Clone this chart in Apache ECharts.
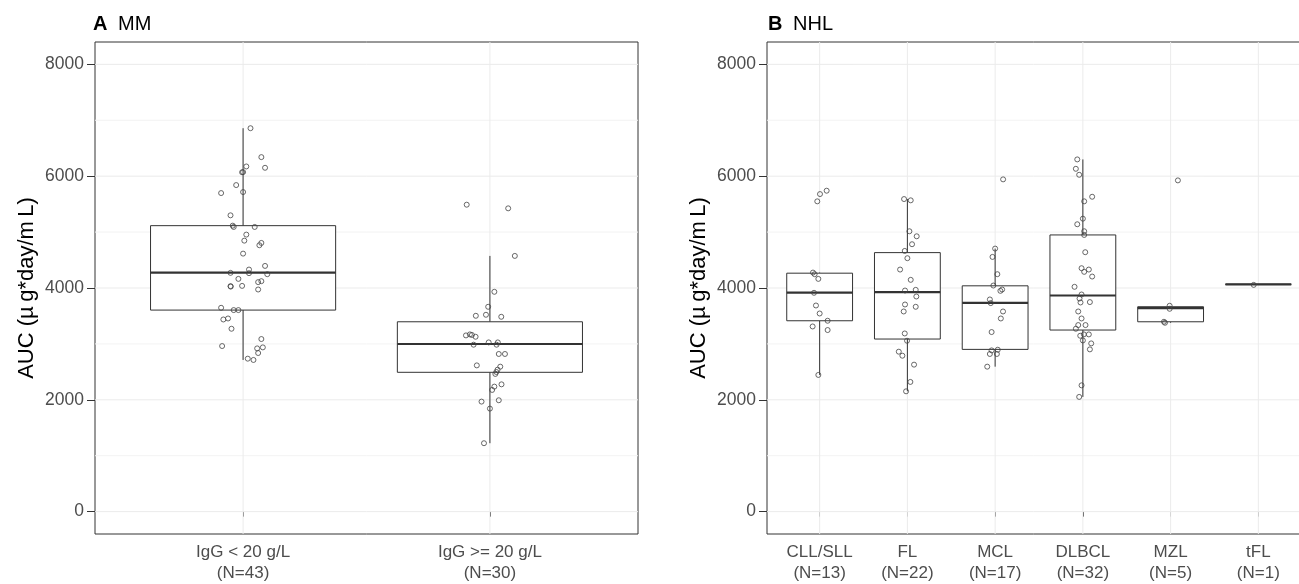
<!DOCTYPE html>
<html>
<head>
<meta charset="utf-8">
<script src="https://cdn.jsdelivr.net/npm/echarts@6/dist/echarts.min.js"></script>
<style>
  html, body { margin: 0; padding: 0; background: #fff; }
  #chart { width: 1299px; height: 584px; }
</style>
</head>
<body>
<div id="chart"></div>
<script>
// panel A: MM, grouped by IgG
var mmCategories = ['IgG < 20 g/L', 'IgG >= 20 g/L'];
var mmCounts = [43, 30];
// whisker low, Q1, median, Q3, whisker high
var mmBoxStats = [
  [2713, 3605, 4276, 5115, 6858],
  [1224, 2492, 2998, 3396, 4574]
];
var mmLowValues = [6858, 6341, 6174, 6150, 6073, 6070, 5841, 5698, 5716, 5300, 5115, 5092, 5092, 4955, 4847,
  4806, 4765, 4615, 4395, 4330, 4265, 4271, 4247, 4163, 4122, 4105, 4033, 4025, 4038, 3973, 3646, 3605, 3605,
  3437, 3455, 3271, 3087, 2962, 2920, 2938, 2837, 2736, 2713];
var mmLowJitter = [0.03, 0.074, 0.013, 0.089, 0, -0.004, -0.028, -0.089, 0, -0.051, -0.042, -0.038, 0.047, 0.013, 0.005,
  0.074, 0.066, 0, 0.089, 0.024, 0.024, -0.051, 0.098, -0.019, 0.074, 0.061, -0.051, -0.05, -0.004, 0.061, -0.089, -0.038, -0.019,
  -0.08, -0.061, -0.047, 0.074, -0.085, 0.057, 0.08, 0.061, 0.019, 0.042];
var mmHighValues = [5490, 5425, 4574, 3932, 3664, 3503, 3521, 3485, 3152, 3170, 3128, 3160, 3027, 2986, 2986,
  3027, 2820, 2820, 2616, 2593, 2539, 2498, 2463, 2277, 2236, 2177, 1968, 1992, 1843, 1224];
var mmHighJitter = [-0.094, 0.074, 0.101, 0.018, -0.007, -0.057, -0.016, 0.046, -0.097, -0.081, -0.058, -0.073, -0.005, -0.066, 0.027,
  0.032, 0.036, 0.061, -0.053, 0.042, 0.031, 0.026, 0.022, 0.047, 0.018, 0.009, -0.034, 0.036, 0, -0.024];

// panel B: NHL subtypes
var nhlCategories = ['CLL/SLL', 'FL', 'MCL', 'DLBCL', 'MZL', 'tFL'];
var nhlCounts = [13, 22, 17, 32, 5, 1];
var nhlBoxStats = [
  [2445, 3414, 3919, 4265, 4276],
  [2152, 3087, 3926, 4633, 5591],
  [2593, 2902, 3735, 4039, 4705],
  [2052, 3248, 3866, 4949, 6300],
  [3378, 3396, 3640, 3665, 3665],
  [4065, 4065, 4065, 4065, 4065]
];
var cllValues = [5740, 5680, 5550, 4276, 4247, 4163, 3914, 3687, 3544, 3414, 3312, 3248, 2445];
var cllJitter = [0.08, 0.004, -0.027, -0.076, -0.057, -0.015, -0.064, -0.042, 0, 0.091, -0.08, 0.091, -0.015];
var flValues = [5591, 5568, 5015, 4925, 4783, 4663, 4533, 4330, 4146, 3955, 3967, 3848, 3705, 3664, 3580,
  3187, 3057, 2861, 2789, 2629, 2320, 2152];
var flJitter = [-0.038, 0.038, 0.023, 0.106, 0.053, -0.03, 0, -0.083, 0.038, -0.027, 0.095, 0.102, -0.027, 0.095, -0.042,
  -0.03, -0.004, -0.098, -0.057, 0.076, 0.034, -0.015];
var mclValues = [5943, 4705, 4556, 4247, 4044, 3973, 3949, 3795, 3730, 3580, 3455, 3212, 2896, 2884, 2820, 2820, 2593];
var mclJitter = [0.091, 0, -0.03, 0.025, -0.02, 0.08, 0.06, -0.06, -0.05, 0.09, 0.065, -0.04, 0.03, -0.04, -0.06, 0.02, -0.09];
var dlbclValues = [6300, 6132, 6025, 5632, 5550, 5240, 5140, 5015, 4949, 4640, 4354, 4330, 4289, 4205, 4021, 3884,
  3812, 3741, 3748, 3580, 3455, 3337, 3337, 3271, 3170, 3146, 3170, 3062, 3009, 2902, 2259, 2052];
var dlbclJitter = [-0.064, -0.08, -0.042, 0.106, 0.015, 0, -0.064, 0.015, 0.015, 0.027, -0.015, 0.068, 0.015, 0.106, -0.095, -0.015,
  -0.038, -0.027, 0.08, -0.053, -0.015, -0.053, 0.03, -0.08, 0.011, -0.03, 0.068, 0, 0.095, 0.08, -0.015, -0.042];
var mzlValues = [5925, 3682, 3628, 3396, 3378];
var mzlJitter = [0.083, -0.011, -0.011, -0.076, -0.064];
var tflValues = [4056];
var tflJitter = [-0.053];

var yMajorTicks = [0, 2000, 4000, 6000, 8000];
var yMinorTicks = [1000, 3000, 5000, 7000];
var yTitle = 'AUC (\u00b5\u2009g*day/m\u2009L)';

var FONT = '"Liberation Sans", Arial, Helvetica, sans-serif';

function makePoints(groups) {
  var out = [];
  groups.forEach(function (g, i) {
    g[0].forEach(function (v, k) {
      out.push([i + 1 + g[1][k], v]);
    });
  });
  return out;
}

function boxData(stats) {
  return stats.map(function (s, i) { return [i + 1].concat(s); });
}

function gridLineData(nCat) {
  var d = [];
  yMinorTicks.forEach(function (v) { d.push([v, 1]); });
  yMajorTicks.forEach(function (v) { d.push([v, 0]); });
  for (var i = 1; i <= nCat; i++) d.push([i, 2]);
  return d;
}

function renderGridLine(params, api) {
  var v = api.value(0), kind = api.value(1);
  var cs = params.coordSys;
  if (kind === 2) {
    var x = api.coord([v, 0])[0];
    return { type: 'line', shape: { x1: x, y1: cs.y, x2: x, y2: cs.y + cs.height },
      style: { stroke: '#EBEBEB', lineWidth: 1 } };
  }
  var y = api.coord([1, v])[1];
  return { type: 'line', shape: { x1: cs.x, y1: y, x2: cs.x + cs.width, y2: y },
    style: { stroke: kind === 1 ? '#F3F3F3' : '#EBEBEB', lineWidth: 1 } };
}

function renderBox(params, api) {
  var x = api.value(0);
  var pLo = api.coord([x, api.value(1)]);
  var pQ1 = api.coord([x, api.value(2)]);
  var pMed = api.coord([x, api.value(3)]);
  var pQ3 = api.coord([x, api.value(4)]);
  var pHi = api.coord([x, api.value(5)]);
  var half = api.size([0.75, 0])[0] / 2;
  var cx = pMed[0];
  var line = { stroke: '#333333', lineWidth: 1 };
  return {
    type: 'group',
    children: [
      { type: 'line', shape: { x1: cx, y1: pHi[1], x2: cx, y2: pQ3[1] }, style: line },
      { type: 'line', shape: { x1: cx, y1: pQ1[1], x2: cx, y2: pLo[1] }, style: line },
      { type: 'rect', shape: { x: cx - half, y: pQ3[1], width: half * 2, height: pQ1[1] - pQ3[1] },
        style: { fill: '#ffffff', stroke: '#333333', lineWidth: 1 } },
      { type: 'line', shape: { x1: cx - half, y1: pMed[1], x2: cx + half, y2: pMed[1] },
        style: { stroke: '#333333', lineWidth: 2.2 } }
    ]
  };
}

function xAxisFor(idx, cats, counts) {
  var vals = cats.map(function (c, i) { return i + 1; });
  return {
    type: 'value', gridIndex: idx, min: 0.4, max: cats.length + 0.6,
    axisLine: { show: false },
    splitLine: { show: false },
    axisTick: { show: true, length: 5, customValues: vals, lineStyle: { color: '#333333' } },
    axisLabel: {
      customValues: vals, margin: 8, color: '#4D4D4D', fontSize: 17, fontFamily: FONT, lineHeight: 21,
      formatter: function (v) {
        var i = Math.round(v) - 1;
        return cats[i] + '\n(N=' + counts[i] + ')';
      }
    }
  };
}

function yAxisFor(idx) {
  return {
    type: 'value', gridIndex: idx, min: -400, max: 8400,
    name: yTitle, nameLocation: 'middle', nameGap: 57, nameRotate: 90,
    nameTextStyle: { color: '#000', fontSize: 22, fontFamily: FONT },
    axisLine: { show: false },
    splitLine: { show: false },
    axisTick: { show: true, length: 8, customValues: yMajorTicks, lineStyle: { color: '#333333' } },
    axisLabel: {
      customValues: yMajorTicks, margin: 11, color: '#4D4D4D', fontSize: 17.5, fontFamily: FONT,
      formatter: function (v) { return String(Math.round(v)); }
    }
  };
}

var pointStyle = { color: 'rgba(0,0,0,0)', borderColor: '#444444', borderWidth: 1 };

var chart = echarts.init(document.getElementById('chart'), null, { renderer: 'canvas' });
chart.setOption({
  animation: false,
  backgroundColor: '#ffffff',
  grid: [
    { left: 95, top: 42, width: 543, height: 492, outerBoundsMode: 'none', containLabel: false,
      show: true, borderColor: '#333333', borderWidth: 1, backgroundColor: 'transparent' },
    { left: 767, top: 42, width: 544, height: 492, outerBoundsMode: 'none', containLabel: false,
      show: true, borderColor: '#333333', borderWidth: 1, backgroundColor: 'transparent' }
  ],
  xAxis: [xAxisFor(0, mmCategories, mmCounts), xAxisFor(1, nhlCategories, nhlCounts)],
  yAxis: [yAxisFor(0), yAxisFor(1)],
  graphic: [
    { type: 'text', left: 93, top: 14, style: { text: 'A', font: 'bold 20px ' + FONT, fill: '#000' } },
    { type: 'text', left: 118, top: 14, style: { text: 'MM', font: '20px ' + FONT, fill: '#000' } },
    { type: 'text', left: 768, top: 14, style: { text: 'B', font: 'bold 20px ' + FONT, fill: '#000' } },
    { type: 'text', left: 793, top: 14, style: { text: 'NHL', font: '20px ' + FONT, fill: '#000' } }
  ],
  series: [
    { type: 'custom', xAxisIndex: 0, yAxisIndex: 0, silent: true, z: 1, renderItem: renderGridLine, data: gridLineData(mmCategories.length) },
    { type: 'custom', xAxisIndex: 1, yAxisIndex: 1, silent: true, z: 1, renderItem: renderGridLine, data: gridLineData(nhlCategories.length) },
    { type: 'custom', xAxisIndex: 0, yAxisIndex: 0, z: 2, renderItem: renderBox, data: boxData(mmBoxStats) },
    { type: 'custom', xAxisIndex: 1, yAxisIndex: 1, z: 2, renderItem: renderBox, data: boxData(nhlBoxStats) },
    { type: 'scatter', xAxisIndex: 0, yAxisIndex: 0, z: 3, symbol: 'circle', symbolSize: 5, itemStyle: pointStyle,
      data: makePoints([[mmLowValues, mmLowJitter], [mmHighValues, mmHighJitter]]) },
    { type: 'scatter', xAxisIndex: 1, yAxisIndex: 1, z: 3, symbol: 'circle', symbolSize: 5, itemStyle: pointStyle,
      data: makePoints([[cllValues, cllJitter], [flValues, flJitter], [mclValues, mclJitter],
        [dlbclValues, dlbclJitter], [mzlValues, mzlJitter], [tflValues, tflJitter]]) }
  ]
});
</script>
</body>
</html>
